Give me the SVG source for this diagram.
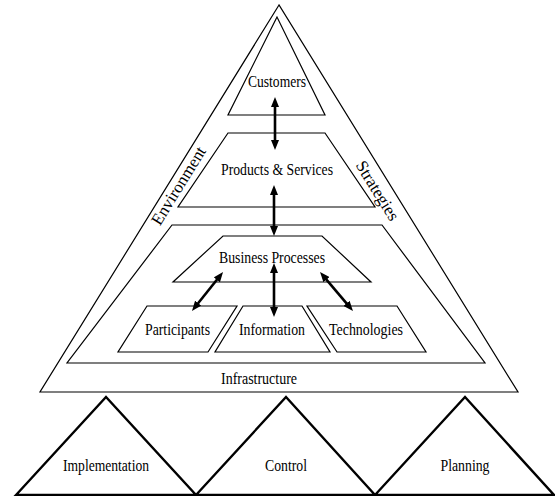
<svg xmlns="http://www.w3.org/2000/svg" width="555" height="496" viewBox="0 0 555 496">
<style>
.shape{fill:none;stroke:#000;stroke-width:1.2;stroke-linejoin:miter}
.base{fill:none;stroke:#000;stroke-width:1.8}
.thick{fill:none;stroke:#000;stroke-width:2.4;stroke-linejoin:miter}
.lbl{font-family:"Liberation Serif","DejaVu Serif",serif;font-size:16px;fill:#000;text-anchor:middle}
.side{font-family:"Liberation Serif","DejaVu Serif",serif;font-size:17px;fill:#000;text-anchor:middle}
.arr{stroke:#000;stroke-width:2.6;fill:none;marker-start:url(#ah);marker-end:url(#ah)}
</style>
<defs>
<marker id="ah" viewBox="0 0 10 8" refX="4" refY="4" markerWidth="10" markerHeight="8" markerUnits="userSpaceOnUse" orient="auto-start-reverse">
<path d="M0,0 L10,4 L0,8 z" fill="#000"/>
</marker>
</defs>
<rect x="0" y="0" width="555" height="496" fill="#fff"/>
<g id="pyramid">
<path class="shape" d="M279,5 L40,392 L518,392 Z"/>
<text class="side" transform="translate(179,186) rotate(-58.3)" x="0" y="5">Environment</text>
<text class="side" transform="translate(377,191) rotate(58.3)" x="0" y="5">Strategies</text>
<text class="lbl" x="259" y="384" textLength="76" lengthAdjust="spacingAndGlyphs">Infrastructure</text>
</g>
<g id="customers">
<path class="shape" d="M277,17 L228,115 L325,115 Z"/>
<text class="lbl" x="277" y="87" textLength="58" lengthAdjust="spacingAndGlyphs">Customers</text>
</g>
<g id="products">
<path class="shape" d="M228,133 L325,133 L375,207 L178,207 Z"/>
<text class="lbl" x="277" y="175" textLength="112" lengthAdjust="spacingAndGlyphs">Products &amp; Services</text>
</g>
<g id="organisation">
<path class="shape" d="M172,225 L382,225 L485,363 L67,363 Z"/>
</g>
<g id="business-processes">
<path class="shape" d="M223,236 L322,236 L371,282 L173,282 Z"/>
<text class="lbl" x="272" y="263" textLength="106" lengthAdjust="spacingAndGlyphs">Business Processes</text>
</g>
<g id="participants">
<path class="shape" d="M147,306 L237,306 L208,352 L118,352 Z"/>
<text class="lbl" x="177.5" y="335" textLength="65" lengthAdjust="spacingAndGlyphs">Participants</text>
</g>
<g id="information">
<path class="shape" d="M243,306 L302,306 L330,352 L215,352 Z"/>
<text class="lbl" x="272" y="335" textLength="66" lengthAdjust="spacingAndGlyphs">Information</text>
</g>
<g id="technologies">
<path class="shape" d="M307,306 L397,306 L426,352 L337,352 Z"/>
<text class="lbl" x="366" y="335" textLength="74" lengthAdjust="spacingAndGlyphs">Technologies</text>
</g>
<g id="implementation">
<path class="thick" d="M16,495 L106,397 L196,495 Z"/>
<text class="lbl" x="106" y="471" textLength="86" lengthAdjust="spacingAndGlyphs">Implementation</text>
</g>
<g id="control">
<path class="thick" d="M196,495 L286,397 L375,495 Z"/>
<text class="lbl" x="286" y="471" textLength="42" lengthAdjust="spacingAndGlyphs">Control</text>
</g>
<g id="planning">
<path class="thick" d="M375,495 L465,397 L554,495 Z"/>
<text class="lbl" x="465" y="471" textLength="49" lengthAdjust="spacingAndGlyphs">Planning</text>
</g>
<g id="connectors">
<line class="arr" x1="275" y1="103" x2="275" y2="144"/>
<line class="arr" x1="274" y1="191" x2="274" y2="230"/>
<line class="arr" x1="274" y1="269" x2="274" y2="311"/>
<line class="arr" x1="219.3" y1="276.7" x2="195.7" y2="306.3"/>
<line class="arr" x1="323.9" y1="276.6" x2="349.1" y2="306.4"/>
</g>
</svg>
